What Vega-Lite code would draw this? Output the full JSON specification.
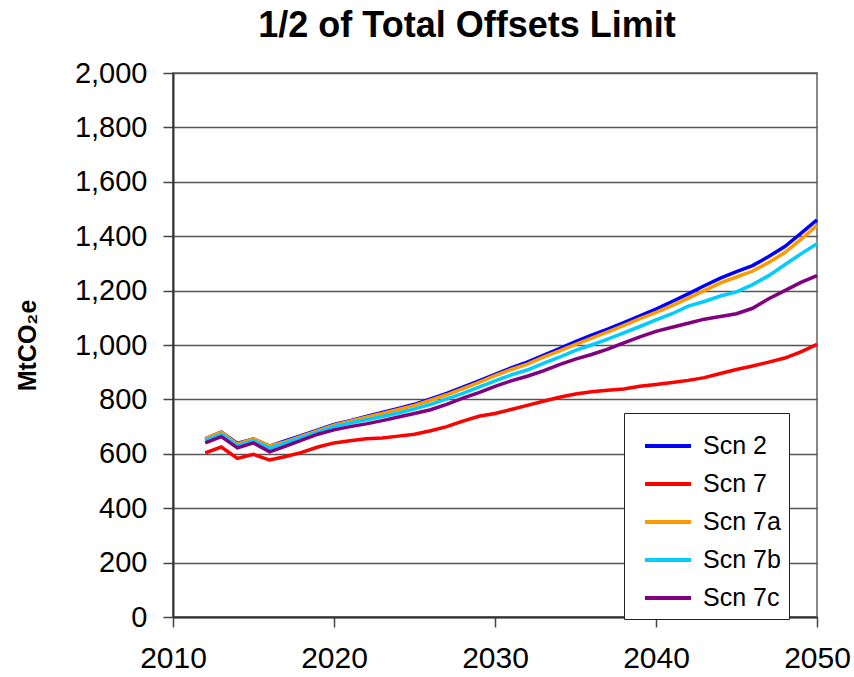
{
  "$schema": "https://vega.github.io/schema/vega-lite/v6.json",
  "width": 644,
  "height": 544,
  "autosize": {"type": "none"},
  "padding": {"left": 173, "top": 73, "right": 37, "bottom": 60},
  "background": "white",
  "title": {
    "text": "1/2 of Total Offsets Limit",
    "font": "Liberation Sans",
    "fontSize": 36,
    "fontWeight": "bold",
    "color": "black",
    "anchor": "middle",
    "dx": -28,
    "offset": 14
  },
  "data": {
    "values": [
      {"year":2012,"s":"Scn 2","v":655},{"year":2013,"s":"Scn 2","v":680},{"year":2014,"s":"Scn 2","v":638},{"year":2015,"s":"Scn 2","v":655},{"year":2016,"s":"Scn 2","v":628},{"year":2017,"s":"Scn 2","v":648},{"year":2018,"s":"Scn 2","v":668},{"year":2019,"s":"Scn 2","v":688},{"year":2020,"s":"Scn 2","v":708},{"year":2021,"s":"Scn 2","v":722},{"year":2022,"s":"Scn 2","v":737},{"year":2023,"s":"Scn 2","v":752},{"year":2024,"s":"Scn 2","v":767},{"year":2025,"s":"Scn 2","v":782},{"year":2026,"s":"Scn 2","v":802},{"year":2027,"s":"Scn 2","v":822},{"year":2028,"s":"Scn 2","v":845},{"year":2029,"s":"Scn 2","v":868},{"year":2030,"s":"Scn 2","v":892},{"year":2031,"s":"Scn 2","v":916},{"year":2032,"s":"Scn 2","v":937},{"year":2033,"s":"Scn 2","v":962},{"year":2034,"s":"Scn 2","v":987},{"year":2035,"s":"Scn 2","v":1012},{"year":2036,"s":"Scn 2","v":1036},{"year":2037,"s":"Scn 2","v":1058},{"year":2038,"s":"Scn 2","v":1082},{"year":2039,"s":"Scn 2","v":1107},{"year":2040,"s":"Scn 2","v":1132},{"year":2041,"s":"Scn 2","v":1160},{"year":2042,"s":"Scn 2","v":1188},{"year":2043,"s":"Scn 2","v":1218},{"year":2044,"s":"Scn 2","v":1246},{"year":2045,"s":"Scn 2","v":1270},{"year":2046,"s":"Scn 2","v":1292},{"year":2047,"s":"Scn 2","v":1325},{"year":2048,"s":"Scn 2","v":1362},{"year":2049,"s":"Scn 2","v":1410},{"year":2050,"s":"Scn 2","v":1460},

      {"year":2012,"s":"Scn 7","v":603},{"year":2013,"s":"Scn 7","v":625},{"year":2014,"s":"Scn 7","v":583},{"year":2015,"s":"Scn 7","v":598},{"year":2016,"s":"Scn 7","v":577},{"year":2017,"s":"Scn 7","v":590},{"year":2018,"s":"Scn 7","v":605},{"year":2019,"s":"Scn 7","v":625},{"year":2020,"s":"Scn 7","v":640},{"year":2021,"s":"Scn 7","v":648},{"year":2022,"s":"Scn 7","v":655},{"year":2023,"s":"Scn 7","v":658},{"year":2024,"s":"Scn 7","v":665},{"year":2025,"s":"Scn 7","v":672},{"year":2026,"s":"Scn 7","v":685},{"year":2027,"s":"Scn 7","v":700},{"year":2028,"s":"Scn 7","v":720},{"year":2029,"s":"Scn 7","v":738},{"year":2030,"s":"Scn 7","v":748},{"year":2031,"s":"Scn 7","v":763},{"year":2032,"s":"Scn 7","v":778},{"year":2033,"s":"Scn 7","v":793},{"year":2034,"s":"Scn 7","v":808},{"year":2035,"s":"Scn 7","v":820},{"year":2036,"s":"Scn 7","v":828},{"year":2037,"s":"Scn 7","v":834},{"year":2038,"s":"Scn 7","v":838},{"year":2039,"s":"Scn 7","v":848},{"year":2040,"s":"Scn 7","v":855},{"year":2041,"s":"Scn 7","v":862},{"year":2042,"s":"Scn 7","v":870},{"year":2043,"s":"Scn 7","v":880},{"year":2044,"s":"Scn 7","v":895},{"year":2045,"s":"Scn 7","v":910},{"year":2046,"s":"Scn 7","v":923},{"year":2047,"s":"Scn 7","v":937},{"year":2048,"s":"Scn 7","v":952},{"year":2049,"s":"Scn 7","v":975},{"year":2050,"s":"Scn 7","v":1002},

      {"year":2012,"s":"Scn 7a","v":655},{"year":2013,"s":"Scn 7a","v":680},{"year":2014,"s":"Scn 7a","v":635},{"year":2015,"s":"Scn 7a","v":655},{"year":2016,"s":"Scn 7a","v":628},{"year":2017,"s":"Scn 7a","v":645},{"year":2018,"s":"Scn 7a","v":665},{"year":2019,"s":"Scn 7a","v":685},{"year":2020,"s":"Scn 7a","v":705},{"year":2021,"s":"Scn 7a","v":720},{"year":2022,"s":"Scn 7a","v":735},{"year":2023,"s":"Scn 7a","v":748},{"year":2024,"s":"Scn 7a","v":763},{"year":2025,"s":"Scn 7a","v":778},{"year":2026,"s":"Scn 7a","v":797},{"year":2027,"s":"Scn 7a","v":817},{"year":2028,"s":"Scn 7a","v":840},{"year":2029,"s":"Scn 7a","v":863},{"year":2030,"s":"Scn 7a","v":887},{"year":2031,"s":"Scn 7a","v":910},{"year":2032,"s":"Scn 7a","v":930},{"year":2033,"s":"Scn 7a","v":955},{"year":2034,"s":"Scn 7a","v":978},{"year":2035,"s":"Scn 7a","v":1002},{"year":2036,"s":"Scn 7a","v":1025},{"year":2037,"s":"Scn 7a","v":1048},{"year":2038,"s":"Scn 7a","v":1072},{"year":2039,"s":"Scn 7a","v":1097},{"year":2040,"s":"Scn 7a","v":1120},{"year":2041,"s":"Scn 7a","v":1145},{"year":2042,"s":"Scn 7a","v":1172},{"year":2043,"s":"Scn 7a","v":1200},{"year":2044,"s":"Scn 7a","v":1228},{"year":2045,"s":"Scn 7a","v":1250},{"year":2046,"s":"Scn 7a","v":1272},{"year":2047,"s":"Scn 7a","v":1303},{"year":2048,"s":"Scn 7a","v":1340},{"year":2049,"s":"Scn 7a","v":1388},{"year":2050,"s":"Scn 7a","v":1440},

      {"year":2012,"s":"Scn 7b","v":648},{"year":2013,"s":"Scn 7b","v":672},{"year":2014,"s":"Scn 7b","v":630},{"year":2015,"s":"Scn 7b","v":648},{"year":2016,"s":"Scn 7b","v":620},{"year":2017,"s":"Scn 7b","v":640},{"year":2018,"s":"Scn 7b","v":660},{"year":2019,"s":"Scn 7b","v":680},{"year":2020,"s":"Scn 7b","v":700},{"year":2021,"s":"Scn 7b","v":713},{"year":2022,"s":"Scn 7b","v":725},{"year":2023,"s":"Scn 7b","v":737},{"year":2024,"s":"Scn 7b","v":750},{"year":2025,"s":"Scn 7b","v":765},{"year":2026,"s":"Scn 7b","v":782},{"year":2027,"s":"Scn 7b","v":802},{"year":2028,"s":"Scn 7b","v":822},{"year":2029,"s":"Scn 7b","v":845},{"year":2030,"s":"Scn 7b","v":868},{"year":2031,"s":"Scn 7b","v":890},{"year":2032,"s":"Scn 7b","v":908},{"year":2033,"s":"Scn 7b","v":932},{"year":2034,"s":"Scn 7b","v":955},{"year":2035,"s":"Scn 7b","v":980},{"year":2036,"s":"Scn 7b","v":1000},{"year":2037,"s":"Scn 7b","v":1022},{"year":2038,"s":"Scn 7b","v":1045},{"year":2039,"s":"Scn 7b","v":1068},{"year":2040,"s":"Scn 7b","v":1092},{"year":2041,"s":"Scn 7b","v":1115},{"year":2042,"s":"Scn 7b","v":1143},{"year":2043,"s":"Scn 7b","v":1160},{"year":2044,"s":"Scn 7b","v":1180},{"year":2045,"s":"Scn 7b","v":1195},{"year":2046,"s":"Scn 7b","v":1222},{"year":2047,"s":"Scn 7b","v":1255},{"year":2048,"s":"Scn 7b","v":1295},{"year":2049,"s":"Scn 7b","v":1335},{"year":2050,"s":"Scn 7b","v":1372},

      {"year":2012,"s":"Scn 7c","v":640},{"year":2013,"s":"Scn 7c","v":663},{"year":2014,"s":"Scn 7c","v":622},{"year":2015,"s":"Scn 7c","v":640},{"year":2016,"s":"Scn 7c","v":607},{"year":2017,"s":"Scn 7c","v":628},{"year":2018,"s":"Scn 7c","v":650},{"year":2019,"s":"Scn 7c","v":672},{"year":2020,"s":"Scn 7c","v":688},{"year":2021,"s":"Scn 7c","v":700},{"year":2022,"s":"Scn 7c","v":710},{"year":2023,"s":"Scn 7c","v":722},{"year":2024,"s":"Scn 7c","v":735},{"year":2025,"s":"Scn 7c","v":748},{"year":2026,"s":"Scn 7c","v":762},{"year":2027,"s":"Scn 7c","v":782},{"year":2028,"s":"Scn 7c","v":805},{"year":2029,"s":"Scn 7c","v":825},{"year":2030,"s":"Scn 7c","v":848},{"year":2031,"s":"Scn 7c","v":868},{"year":2032,"s":"Scn 7c","v":885},{"year":2033,"s":"Scn 7c","v":905},{"year":2034,"s":"Scn 7c","v":928},{"year":2035,"s":"Scn 7c","v":948},{"year":2036,"s":"Scn 7c","v":965},{"year":2037,"s":"Scn 7c","v":985},{"year":2038,"s":"Scn 7c","v":1008},{"year":2039,"s":"Scn 7c","v":1030},{"year":2040,"s":"Scn 7c","v":1050},{"year":2041,"s":"Scn 7c","v":1065},{"year":2042,"s":"Scn 7c","v":1080},{"year":2043,"s":"Scn 7c","v":1095},{"year":2044,"s":"Scn 7c","v":1105},{"year":2045,"s":"Scn 7c","v":1115},{"year":2046,"s":"Scn 7c","v":1135},{"year":2047,"s":"Scn 7c","v":1170},{"year":2048,"s":"Scn 7c","v":1200},{"year":2049,"s":"Scn 7c","v":1230},{"year":2050,"s":"Scn 7c","v":1255}
    ]
  },
  "mark": {"type": "line", "strokeWidth": 3.5},
  "encoding": {
    "x": {
      "field": "year",
      "type": "quantitative",
      "scale": {"domain": [2010, 2050], "nice": false, "zero": false},
      "axis": {
        "values": [2010, 2020, 2030, 2040, 2050],
        "format": "d",
        "title": null,
        "grid": false,
        "labelFont": "Liberation Sans",
        "labelFontSize": 30,
        "labelColor": "black",
        "labelPadding": 16,
        "tickSize": 10,
        "tickColor": "#444",
        "tickWidth": 1.5,
        "domainColor": "#333",
        "domainWidth": 2,
        "labelFlush": false
      }
    },
    "y": {
      "field": "v",
      "type": "quantitative",
      "scale": {"domain": [0, 2000], "nice": false},
      "axis": {
        "values": [0, 200, 400, 600, 800, 1000, 1200, 1400, 1600, 1800, 2000],
        "format": ",d",
        "title": "MtCO₂e",
        "titleFont": "Liberation Sans",
        "titleFontSize": 25,
        "titleFontWeight": "bold",
        "titleColor": "black",
        "titlePadding": 34,
        "grid": true,
        "gridColor": "#555",
        "gridWidth": 1.5,
        "labelFont": "Liberation Sans",
        "labelFontSize": 29,
        "labelColor": "black",
        "labelPadding": 16,
        "tickSize": 10,
        "tickColor": "#444",
        "tickWidth": 1.5,
        "domainColor": "#333",
        "domainWidth": 2
      }
    },
    "color": {
      "field": "s",
      "type": "nominal",
      "scale": {
        "domain": ["Scn 2", "Scn 7", "Scn 7a", "Scn 7b", "Scn 7c"],
        "range": ["#0000FF", "#FF0000", "#FF9900", "#00CCFF", "#800080"]
      },
      "legend": {
        "title": null,
        "orient": "none",
        "legendX": 451,
        "legendY": 340,
        "symbolType": "stroke",
        "symbolSize": 2116,
        "symbolStrokeWidth": 4,
        "symbolOffset": 11,
        "labelFont": "Liberation Sans",
        "labelFontSize": 25,
        "labelColor": "black",
        "labelOffset": 10,
        "rowPadding": 0,
        "padding": 8,
        "strokeColor": "#222",
        "fillColor": "white"
      }
    }
  },
  "config": {
    "view": {"stroke": "#888", "strokeWidth": 2}
  }
}
